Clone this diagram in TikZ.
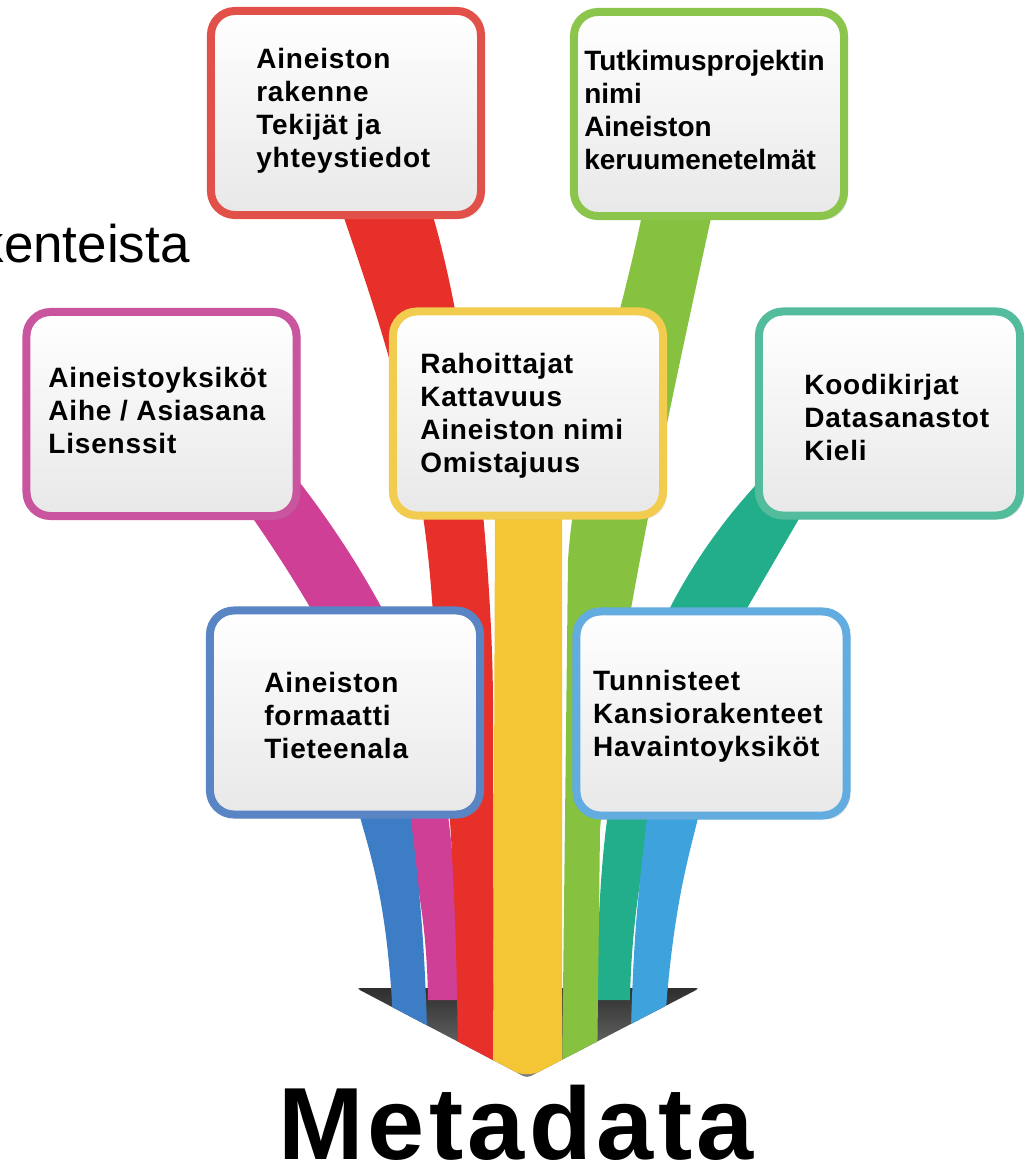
\documentclass[tikz,border=0pt]{standalone}
\usepackage{fontspec}
\setmainfont{Liberation Sans}
\newfontfamily\tagfont[LetterSpace=3]{Liberation Sans}
\newfontfamily\metafont[LetterSpace=4.3]{Liberation Sans}
\usetikzlibrary{positioning,shadows}
\definecolor{boxred}{HTML}{E2504A}
\definecolor{boxgreen}{HTML}{8CC54B}
\definecolor{boxpink}{HTML}{C9559E}
\definecolor{boxyellow}{HTML}{F2CC4E}
\definecolor{boxteal}{HTML}{52BC9C}
\definecolor{boxblue}{HTML}{5A85C4}
\definecolor{boxlblue}{HTML}{62ACDF}
\definecolor{ribred}{HTML}{E8302A}
\definecolor{ribgreen}{HTML}{86C23F}
\definecolor{ribpink}{HTML}{CF3F96}
\definecolor{ribyellow}{HTML}{F4C534}
\definecolor{ribteal}{HTML}{22AE8A}
\definecolor{ribblue}{HTML}{3C7DC6}
\definecolor{riblblue}{HTML}{3EA2DD}

\begin{document}
\begin{tikzpicture}[x=0.025cm, y=-0.025cm,
    tagbox/.style={draw, rounded corners=0.6cm, line width=0.2cm, top color=white, bottom color=black!9,
      minimum width=6.75cm, minimum height=5.1cm, drop shadow={opacity=0.18}},
    tagtext/.style={anchor=west, align=left, inner sep=0pt, font=\fontsize{19.9}{23.5}\tagfont\bfseries}]
  \useasboundingbox (0,0) rectangle (1024,1172);
  \clip (0,0) rectangle (1024,1172);
  \fill[white] (0,0) rectangle (1024,1172);

  % title fragment, cut by the page edge
  \node[anchor=base east, inner sep=0pt, font=\fontsize{37.7}{40}\selectfont] (frag) at (190,262) {kenteista};

  % arrow head
  \shade[top color=black!82, bottom color=black!50, rounded corners=3pt] (356,988) -- (700,988) -- (527,1078) -- cycle;

  % ribbons
  \begin{scope}
    \clip[rounded corners=10pt] (0,0) -- (1024,0) -- (1024,988) -- (700,988) -- (527,1078) -- (356,988) -- (0,988) -- cycle;
    \fill[ribpink] (240,500) .. controls (290,570) and (360,680) .. (395,790) .. controls (415,860) and (427,920) .. (428,1000)
      -- (458,1000) .. controls (458,880) and (450,780) .. (420,690) .. controls (385,600) and (330,520) .. (290,470) -- cycle;
    \fill[ribteal] (775,465) .. controls (720,520) and (680,580) .. (650,650) .. controls (610,750) and (598,850) .. (597,1000)
      -- (630,1000) .. controls (632,880) and (660,760) .. (700,690) .. controls (740,620) and (775,560) .. (810,500) -- cycle;
    \fill[ribblue] (358,810) .. controls (375,870) and (392,920) .. (395,1080)
      -- (428,1080) .. controls (426,920) and (415,860) .. (410,810) -- cycle;
    \fill[riblblue] (648,810) .. controls (640,880) and (632,930) .. (630,1080)
      -- (662,1080) .. controls (668,920) and (688,860) .. (700,810) -- cycle;
    \fill[ribred] (338,200) .. controls (375,310) and (420,430) .. (432,600) .. controls (445,760) and (457,850) .. (458,1080)
      -- (494,1080) -- (493,700) .. controls (492,560) and (470,330) .. (428,200) -- cycle;
    \fill[ribgreen] (645,200) .. controls (620,330) and (575,450) .. (568,560) -- (562,1080)
      -- (597,1080) -- (600,830) .. controls (612,680) and (660,450) .. (715,200) -- cycle;
    \fill[ribyellow] (495,510) -- (562,510) -- (562,1080) -- (493,1080) -- cycle;
  \end{scope}

  % boxes
  \node[tagbox, draw=boxred] (rakenne) at (346,113) {};
  \node[tagbox, draw=boxgreen] (projekti) at (709,114) {};
  \node[tagbox, draw=boxpink] (yksikot) at (161.5,414) {};
  \node[tagbox, draw=boxyellow] (rahoitus) at (528,413.5) {};
  \node[tagbox, draw=boxteal, minimum width=6.525cm] (koodi) at (889.5,413.5) {};
  \node[tagbox, draw=boxblue] (formaatti) at (345,712.5) {};
  \node[tagbox, draw=boxlblue] (tunniste) at (711.5,713.5) {};

  \node[tagtext] (rakennetxt) at ([xshift=1.225cm, yshift=0.05cm]rakenne.west) {Aineiston\\rakenne\\Tekijät ja\\yhteystiedot};
  \node[tagtext, font=\fontsize{19.9}{23.5}\selectfont\bfseries] (projektitxt) at ([xshift=0.35cm, yshift=0.1cm]projekti.west) {Tutkimusprojektin\\nimi\\Aineiston\\keruumenetelmät};
  \node[tagtext] (yksikottxt) at ([xshift=0.64cm, yshift=0.08cm]yksikot.west) {Aineistoyksiköt\\Aihe / Asiasana\\Lisenssit};
  \node[tagtext] (rahoitustxt) at ([xshift=0.775cm, yshift=-0.05cm]rahoitus.west) {Rahoittajat\\Kattavuus\\Aineiston nimi\\Omistajuus};
  \node[tagtext] (koodi txt) at ([xshift=1.225cm, yshift=-0.1cm]koodi.west) {Koodikirjat\\Datasanastot\\Kieli};
  \node[tagtext] (formaattitxt) at ([xshift=1.45cm, yshift=-0.08cm]formaatti.west) {Aineiston\\formaatti\\Tieteenala};
  \node[tagtext] (tunnistetxt) at ([xshift=0.51cm, yshift=-0.06cm]tunniste.west) {Tunnisteet\\Kansiorakenteet\\Havaintoyksiköt};

  \node[anchor=base, inner sep=0pt, font=\fontsize{73}{80}\metafont\bfseries] (meta) at (516,1159) {Metadata};
\end{tikzpicture}
\end{document}
